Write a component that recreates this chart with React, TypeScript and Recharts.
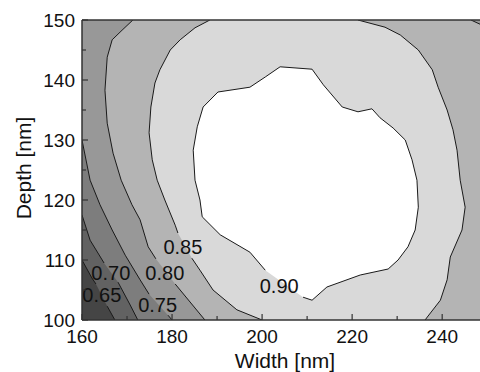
import React from 'react';
import { ComposedChart, Scatter, XAxis, YAxis, ReferenceLine } from 'recharts';

// Axis ticks
const xTicks = [160, 170, 180, 190, 200, 210, 220, 230, 240];
const yTicks = [100, 105, 110, 115, 120, 125, 130, 135, 140, 145, 150];
const xDomain = [160, 248.4];
const yDomain = [100, 150];

// Contour lines (Width, Depth), split where the level labels sit
const c065a = [[160, 110], [162.2, 107], [163.1, 106]];
const c065b = [[165.6, 102.3], [167.3, 100]];

const c070a = [[160, 117.5], [161.8, 113.3], [164.9, 109.5]];
const c070b = [[168, 106.3], [170.7, 102.5], [172.4, 100]];

const c075a = [[160, 130], [161.8, 123.3], [164, 119.2], [166.7, 115], [169.6, 110.8], [172.9, 106.7], [174.9, 104.3]];
const c075b = [[179.1, 100.8], [180, 100]];

const c080a = [[171.3, 150], [168.9, 148.3], [166.7, 146.7], [165.6, 143.8], [165.1, 138.3], [165.6, 132.8], [166.9, 127.8], [168.7, 123.3], [171.1, 119.2], [172.9, 116.7], [174.7, 112.2], [176.4, 110.2]];
const c080b = [[180.7, 106], [185.1, 102], [187.3, 100]];
const c080c = [[248.4, 149.3], [246.4, 150]];

const c085a = [[188.4, 150], [185.1, 148.7], [181.8, 146.7], [179.6, 145], [177.3, 141.7], [176.2, 139.5], [175.3, 135.5], [174.9, 131.2], [175.6, 126.7], [176.7, 123.3], [178.4, 120], [180.7, 115.8], [181.3, 114.5]];
const c085b = [[184.4, 110.3], [186.2, 108.3], [189.1, 105], [194.4, 101.7], [200, 100]];
const c085r = [[236.2, 100], [236.7, 100.5], [239.6, 103.3], [241.1, 106.7], [241.8, 110.5], [244.4, 115], [245.1, 118.8], [244, 123.3], [243.3, 128.3], [242.4, 131.7], [241.1, 135], [239.1, 138.8], [237.8, 141.7], [234.7, 145], [230.7, 147.5], [227.3, 148.8], [221.3, 150]];

const c090 = [[209.1, 103.8], [211.1, 103.3], [214.4, 105.5], [221.8, 107.5], [228, 108.5], [230.2, 110], [232.4, 112.2], [234, 115], [234.7, 118.8], [234.4, 123.3], [233.3, 126.7], [231.8, 130], [229.1, 132], [226.2, 133.7], [224.4, 135.2], [221.3, 134.7], [217.8, 135.5], [213.6, 139.2], [211.1, 141.8], [204, 142.2], [200.7, 140.5], [197.3, 138.8], [190.2, 138], [186.9, 135.5], [185.6, 132.2], [184.7, 128.3], [185.1, 123.3], [186.2, 120], [186.7, 117.2], [190.7, 114.2], [197.3, 111.3], [200.7, 108.3]];

// Level labels
const levelLabels = [
  { x: 164.4, y: 104.1, t: '0.65' },
  { x: 166.4, y: 107.9, t: '0.70' },
  { x: 176.8, y: 102.5, t: '0.75' },
  { x: 178.4, y: 107.9, t: '0.80' },
  { x: 182.4, y: 112.25, t: '0.85' },
  { x: 203.8, y: 105.7, t: '0.90' },
];

const levelColors = ['#454545', '#626262', '#7d7d7d', '#989898', '#b4b4b4', '#d9d9d9', '#ffffff'];

const X0 = xDomain[0], X1 = xDomain[1], Y0 = yDomain[0], Y1 = yDomain[1];
const fills = [
  [[X0, Y0], [X1, Y0], [X1, Y1], [X0, Y1]],
  [...c065a, ...c065b, [X1, Y0], [X1, Y1], [X0, Y1]],
  [...c070a, ...c070b, [X1, Y0], [X1, Y1], [X0, Y1]],
  [...c075a, ...c075b, [X1, Y0], [X1, Y1], [X0, Y1]],
  [...c080a, ...c080b, [X1, Y0], ...c080c],
  [...c085a, ...c085b, ...c085r],
  [...c090],
];
const strokes = [c065a, c065b, c070a, c070b, c075a, c075b, c080a, c080b, c080c, c085a, c085b, c085r, c090];

const toPts = (arr: number[][]) => arr.map(([x, y]) => ({ x, y }));
const Hidden = () => <g />;

const LabelShape = (props: any) => (
  <text x={props.cx} y={props.cy + 7} textAnchor="middle" fontSize={20} fill="#111">
    {props.payload.t}
  </text>
);

const XTick = (props: any) => {
  const { x, y, payload } = props;
  const v = payload.value;
  const major = v % 20 === 0;
  return (
    <g>
      <line x1={x} y1={y} x2={x} y2={y - (major ? 6 : 4)} stroke="#333" strokeWidth={1.2} />
      {major && (
        <text x={x} y={y + 23} textAnchor="middle" fontSize={19} fill="#111">
          {v}
        </text>
      )}
    </g>
  );
};

const YTick = (props: any) => {
  const { x, y, payload } = props;
  const v = payload.value;
  const major = v % 10 === 0;
  return (
    <g>
      <line x1={x} y1={y} x2={x + (major ? 6 : 4)} y2={y} stroke="#333" strokeWidth={1.2} />
      {major && (
        <text x={x - 7} y={y + 7} textAnchor="end" fontSize={19} fill="#111">
          {v}
        </text>
      )}
    </g>
  );
};

const XTitle = (props: any) => {
  const vb = props.viewBox || { x: 82, y: 320, width: 398 };
  return (
    <text x={vb.x + vb.width / 2 + 4} y={vb.y + 48} textAnchor="middle" fontSize={21} fill="#111">
      Width [nm]
    </text>
  );
};

const YTitle = (props: any) => {
  const vb = props.viewBox || { x: 0, y: 20, height: 300 };
  const cx = vb.x + 31;
  const cy = vb.y + vb.height / 2 - 2;
  return (
    <text x={cx} y={cy} textAnchor="middle" fontSize={21} fill="#111" transform={`rotate(-90 ${cx} ${cy})`}>
      Depth [nm]
    </text>
  );
};

export default function App() {
  return (
    <div style={{ position: 'absolute', left: 0, top: 0, width: 480, height: 372, background: '#fff', fontFamily: '"Liberation Sans", Arial, sans-serif' }}>
      <ComposedChart width={480} height={372} margin={{ top: 20, right: 0, bottom: 0, left: 0 }}>
        {fills.map((f, i) => (
          <Scatter
            key={'f' + i}
            data={toPts(f)}
            line={{ fill: levelColors[i], stroke: 'none' }}
            shape={Hidden}
            isAnimationActive={false}
            zIndex={1}
          />
        ))}
        {strokes.map((s, i) => (
          <Scatter
            key={'s' + i}
            data={toPts(s)}
            line={{ fill: 'none', stroke: '#1a1a1a', strokeWidth: 1 }}
            shape={Hidden}
            isAnimationActive={false}
            zIndex={2}
          />
        ))}
        <Scatter data={levelLabels} shape={LabelShape} isAnimationActive={false} zIndex={3} />
        <ReferenceLine y={150} stroke="#333" strokeWidth={1.5} />
        <XAxis
          type="number"
          dataKey="x"
          domain={xDomain}
          allowDataOverflow
          ticks={xTicks}
          interval={0}
          tickSize={0}
          tickMargin={0}
          tickLine={false}
          tick={<XTick />}
          height={52}
          axisLine={{ stroke: '#333', strokeWidth: 1.5 }}
          label={<XTitle />}
        />
        <YAxis
          type="number"
          dataKey="y"
          domain={yDomain}
          allowDataOverflow
          ticks={yTicks}
          interval={0}
          tickSize={0}
          tickMargin={0}
          tickLine={false}
          tick={<YTick />}
          width={82}
          axisLine={{ stroke: '#333', strokeWidth: 1.5 }}
          label={<YTitle />}
        />
      </ComposedChart>
    </div>
  );
}
